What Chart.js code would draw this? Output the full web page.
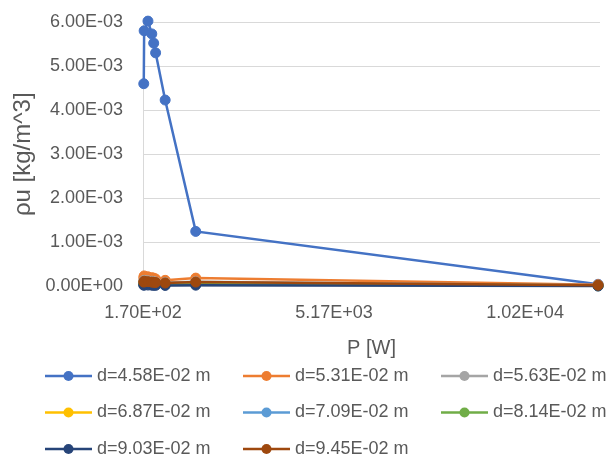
<!DOCTYPE html>
<html>
<head>
<meta charset="utf-8">
<script src="https://cdn.jsdelivr.net/npm/chart.js@4.4.1/dist/chart.umd.min.js"></script>
<style>
  body { margin: 0; background: #ffffff; }
  #wrap { width: 611px; height: 459px; overflow: hidden; }
</style>
</head>
<body>
<div id="wrap"><canvas id="c" width="611" height="459"></canvas></div>
<script>
// P [W] 軸的資料點 (所有系列共用)
const pValues = [190, 200, 300, 400, 450, 500, 750, 1550, 12080];

// 每個直徑的 ρu [kg/m^3]
const rhoU_458 = [4.60e-3, 5.80e-3, 6.02e-3, 5.73e-3, 5.52e-3, 5.30e-3, 4.23e-3, 1.25e-3, 5.0e-5];
const rhoU_531 = [2.0e-4, 2.4e-4, 2.2e-4, 2.0e-4, 1.9e-4, 1.7e-4, 1.4e-4, 1.9e-4, 4.0e-5];
const rhoU_563 = [1.2e-4, 1.4e-4, 1.3e-4, 1.2e-4, 1.1e-4, 1.0e-4, 9.0e-5, 1.1e-4, 3.0e-5];
const rhoU_687 = [8.0e-5, 9.0e-5, 8.5e-5, 8.0e-5, 7.5e-5, 7.0e-5, 6.0e-5, 8.0e-5, 2.0e-5];
const rhoU_709 = [7.0e-5, 8.0e-5, 7.5e-5, 7.0e-5, 6.5e-5, 6.0e-5, 5.0e-5, 7.0e-5, 2.0e-5];
const rhoU_814 = [5.0e-5, 6.0e-5, 5.5e-5, 5.0e-5, 4.8e-5, 4.5e-5, 4.0e-5, 5.0e-5, 1.5e-5];
const rhoU_903 = [3.0e-5, 3.5e-5, 3.3e-5, 3.0e-5, 2.8e-5, 2.6e-5, 2.4e-5, 3.0e-5, 1.0e-5];
const rhoU_945 = [1.0e-4, 1.2e-4, 1.1e-4, 1.0e-4, 9.5e-5, 9.0e-5, 8.0e-5, 1.0e-4, 3.0e-5];

const seriesLabels = ['d=4.58E-02 m', 'd=5.31E-02 m', 'd=5.63E-02 m', 'd=6.87E-02 m',
                      'd=7.09E-02 m', 'd=8.14E-02 m', 'd=9.03E-02 m', 'd=9.45E-02 m'];
const seriesValues = [rhoU_458, rhoU_531, rhoU_563, rhoU_687, rhoU_709, rhoU_814, rhoU_903, rhoU_945];
const seriesColors = ['#4472C4', '#ED7D31', '#A5A5A5', '#FFC000', '#5B9BD5', '#70AD47', '#264478', '#9E480E'];

// 刻度
const xTickValues = [170, 5170, 10170];
const yTickValues = [0, 0.001, 0.002, 0.003, 0.004, 0.005, 0.006];

const textColor = '#595959';
const gridColor = '#d9d9d9';
const fontFamily = '"Liberation Sans", Arial, sans-serif';

// 轉成 Excel 風格的科學記號 e.g. 6.00E-03
function fmtE(v) {
    const s = Number(v).toExponential(2);
    const parts = s.split('e');
    const sign = parts[1][0] === '-' ? '-' : '+';
    const digits = parts[1].replace(/[+-]/, '');
    return parts[0] + 'E' + sign + digits.padStart(2, '0');
}

// Excel 式圖例: 三欄, 線 + 圓點 + 文字
const excelLegend = {
    id: 'excelLegend',
    afterDraw(chart) {
        const ctx = chart.ctx;
        ctx.save();
        ctx.font = '18px ' + fontFamily;
        ctx.textBaseline = 'middle';
        ctx.textAlign = 'left';
        seriesLabels.forEach((label, i) => {
            const x = 45 + (i % 3) * 198;
            const y = 376 + Math.floor(i / 3) * 36.5;
            ctx.strokeStyle = seriesColors[i];
            ctx.lineWidth = 2.5;
            ctx.beginPath();
            ctx.moveTo(x, y);
            ctx.lineTo(x + 47, y);
            ctx.stroke();
            ctx.fillStyle = seriesColors[i];
            ctx.beginPath();
            ctx.arc(x + 23.5, y, 5, 0, Math.PI * 2);
            ctx.fill();
            ctx.fillStyle = textColor;
            ctx.fillText(label, x + 52, y);
        });
        ctx.restore();
    }
};

const datasets = seriesLabels.map((label, i) => ({
    label: label,
    data: pValues.map((p, j) => ({ x: p, y: seriesValues[i][j] })),
    borderColor: seriesColors[i],
    backgroundColor: seriesColors[i],
    pointBackgroundColor: seriesColors[i],
    pointBorderColor: seriesColors[i],
    borderWidth: 2.5,
    pointRadius: 5,
    pointBorderWidth: 1,
    showLine: true,
    clip: 10,
    order: seriesLabels.length - i   // 後面的系列畫在上面 (同 Excel)
}));

new Chart(document.getElementById('c'), {
    type: 'scatter',
    data: { datasets: datasets },
    plugins: [excelLegend],
    options: {
        responsive: false,
        animation: false,
        layout: { padding: { top: 22, right: 11, bottom: 98.5, left: 12.5 } },
        plugins: {
            tooltip: { enabled: false },
            legend: { display: false }
        },
        scales: {
            x: {
                type: 'linear',
                min: 170,
                max: 12130,
                afterBuildTicks: function(scale) {
                    scale.ticks = xTickValues.map(v => ({ value: v }));
                },
                grid: { display: false, drawTicks: false },
                border: { display: true, color: gridColor, width: 1 },
                ticks: {
                    padding: 16,
                    color: textColor,
                    maxRotation: 0,
                    font: { family: fontFamily, size: 18 },
                    callback: v => fmtE(v)
                },
                title: {
                    display: true,
                    text: 'P [W]',
                    color: textColor,
                    font: { family: fontFamily, size: 20 },
                    padding: { top: -3.6, bottom: 0 }
                }
            },
            y: {
                type: 'linear',
                min: 0,
                max: 0.006,
                afterBuildTicks: function(scale) {
                    scale.ticks = yTickValues.map(v => ({ value: v }));
                },
                afterFit: function(scale) {
                    scale.width = 130.5;
                },
                // 透明刻度線, 只用來把標籤推離軸線
                grid: { color: gridColor, lineWidth: 1, drawTicks: true, tickLength: 12, tickColor: 'rgba(0,0,0,0)' },
                border: { display: true, color: gridColor, width: 1 },
                ticks: {
                    padding: 8,
                    color: textColor,
                    font: { family: fontFamily, size: 18 },
                    callback: v => fmtE(v)
                },
                title: {
                    display: true,
                    text: 'ρu [kg/m^3]',
                    color: textColor,
                    font: { family: fontFamily, size: 24 },
                    padding: { top: -3.9, bottom: 0 }
                }
            }
        }
    }
});
</script>
</body>
</html>
